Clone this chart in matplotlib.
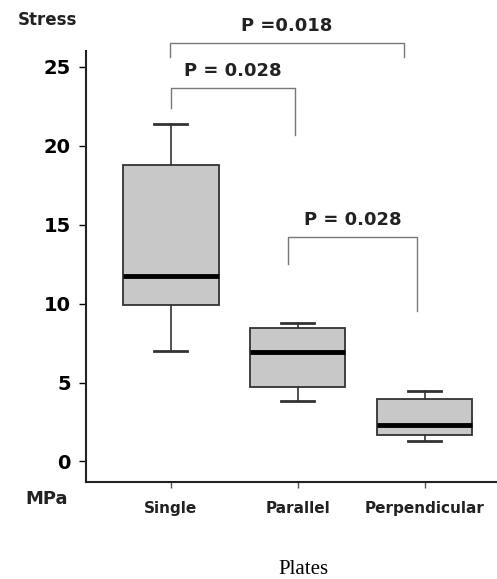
import matplotlib
matplotlib.use("Agg")
import matplotlib.pyplot as plt

plt.rcParams.update({"font.family": "DejaVu Sans"})

# ---------------------------------------------------------------------
# data (MPa)
# ---------------------------------------------------------------------
plates = ["Single", "Parallel", "Perpendicular"]
whisker_low = [7.0, 3.85, 1.3]
q1 = [9.9, 4.7, 1.65]
median = [11.75, 6.95, 2.3]
q3 = [18.75, 8.45, 3.95]
whisker_high = [21.4, 8.8, 4.45]

# comparisons: (left group, right group, p-value text)
comparisons = [
    (1, 3, "P =0.018"),
    (1, 2, "P = 0.028"),
    (2, 3, "P = 0.028"),
]

stats = [
    {"label": p, "whislo": lo, "q1": a, "med": m, "q3": b, "whishi": hi, "fliers": []}
    for p, lo, a, m, b, hi in zip(plates, whisker_low, q1, median, q3, whisker_high)
]

fig = plt.figure(figsize=(4.97, 5.79), dpi=100)
ax = fig.add_axes([0.173, 0.1675, 0.827, 0.7445])

ax.bxp(
    stats,
    positions=[1, 2, 3],
    widths=0.75,
    patch_artist=True,
    showfliers=False,
    boxprops=dict(facecolor="#c8c8c8", edgecolor="#333333", linewidth=1.3),
    medianprops=dict(color="black", linewidth=3.5),
    whiskerprops=dict(color="#333333", linewidth=1.2),
    capprops=dict(color="#333333", linewidth=2.0),
    capwidths=0.26,
)

ax.set_xlim(0.33, 3.57)
ax.set_ylim(-1.3, 26.0)
ax.set_yticks([0, 5, 10, 15, 20, 25])
ax.set_xticks([1, 2, 3])
ax.set_xticklabels(plates, fontsize=11, fontweight="bold", color="#222222")
ax.tick_params(axis="y", labelsize=14, length=5, width=1, pad=6)
ax.tick_params(axis="x", length=4, width=1, pad=10, color="#555555")
for lab in ax.get_yticklabels():
    lab.set_fontweight("bold")
for s in ("top", "right"):
    ax.spines[s].set_visible(False)
for s in ("left", "bottom"):
    ax.spines[s].set_linewidth(1.5)
    ax.spines[s].set_color("#222222")

# significance brackets
bar_y = [26.5, 23.65, 14.2]
leg_left = [25.6, 22.4, 12.5]
leg_right = [25.6, 20.7, 9.5]
bar_x = [(0.99, 2.84), (1.0, 1.98), (1.92, 2.94)]
for (x0, x1), y, yl, yr, (_, _, txt) in zip(bar_x, bar_y, leg_left, leg_right, comparisons):
    ax.plot([x0, x0, x1, x1], [yl, y, y, yr], color="#777777", linewidth=1.0,
            clip_on=False)
    ax.text((x0 + x1) / 2, y + 0.5, txt, ha="center", va="bottom",
            fontsize=13, fontweight="bold", color="#222222", clip_on=False)

fig.text(47 / 497, 1 - 20 / 579, "Stress", ha="center", va="center",
         fontsize=12, fontweight="bold", color="#222222")
fig.text(47 / 497, 1 - 499 / 579, "MPa", ha="center", va="center",
         fontsize=13, fontweight="bold", color="#222222")
fig.text(303 / 497, 1 - 569 / 579, "Plates", ha="center", va="center",
         fontsize=15, family="Liberation Serif")

fig.savefig("out.png", dpi=100)
